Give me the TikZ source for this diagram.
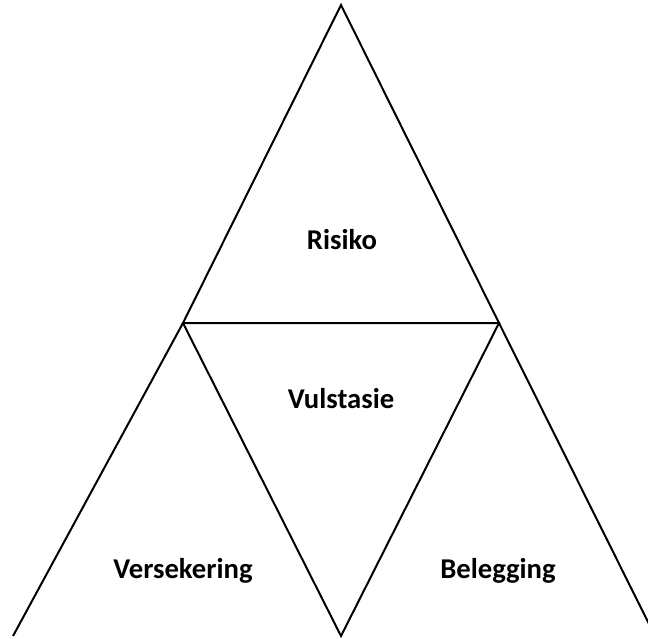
\documentclass[tikz,border=0pt]{standalone}
\usepackage{fontspec}
\setmainfont{Carlito}
\begin{document}
\begin{tikzpicture}[x=0.75pt,y=-0.75pt,
  edge/.style={line width=1.5pt,line join=miter},
  lbl/.style={font=\fontsize{21.5}{25}\selectfont\bfseries,inner sep=0pt,anchor=base}]
\useasboundingbox (0,0) rectangle (648,638);
\clip (0,0) rectangle (648,638);
\coordinate (A) at (341,5);
\coordinate (L) at (183,323);
\coordinate (R) at (499,323);
\coordinate (BL) at (13,636);
\coordinate (BM) at (341,636);
\coordinate (BR) at (655,636);
\draw[edge] (A) -- (L) -- (R) -- cycle;
\draw[edge] (L) -- (BM) -- (R);
\draw[edge] (BL) -- (L);
\draw[edge] (BR) -- (R);
\node[lbl] (risiko) at (342,249) {Risiko};
\node[lbl] (vul) at (341,408) {Vulstasie};
\node[lbl] (vers) at (183,578) {Versekering};
\node[lbl] (bel) at (498,578) {Belegging};
\end{tikzpicture}
\end{document}
